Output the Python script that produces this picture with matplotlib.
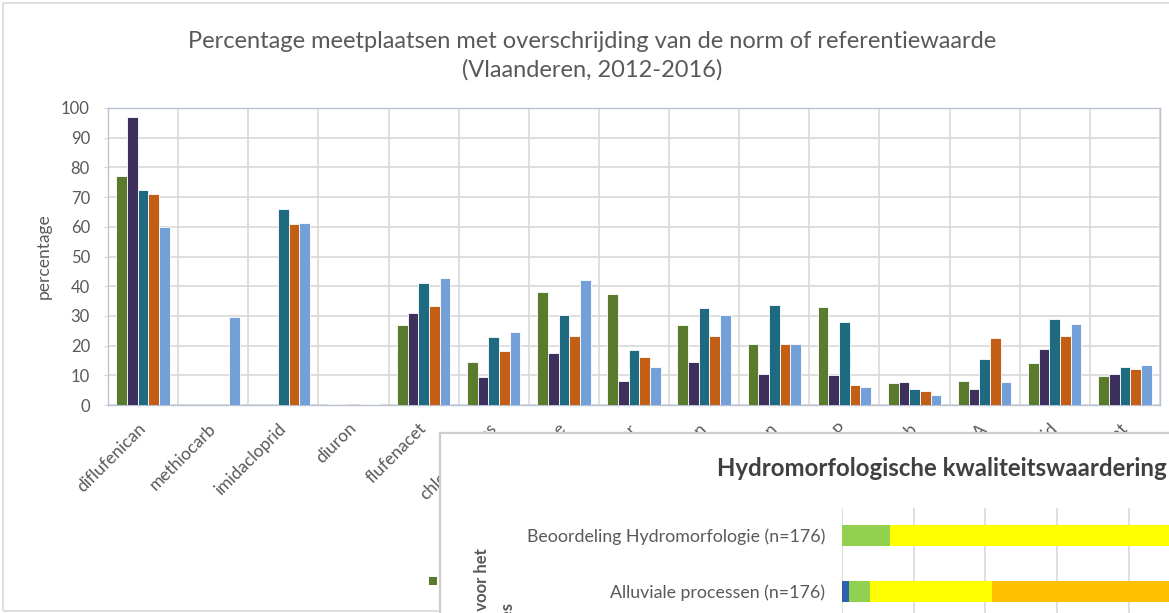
import matplotlib
matplotlib.use("Agg")
import matplotlib.pyplot as plt
from matplotlib.patches import Rectangle, Patch
import numpy as np

W, H = 1169, 613
DPI = 100

# --- main chart data: share of sites exceeding the standard (%) ---
stoffen = ["diflufenican", "methiocarb", "imidacloprid", "diuron", "flufenacet",
           "chloorpyrifos", "terbutylazine", "metolachloor", "linuron", "isoproturon",
           "dimethenamid-P", "pirimicarb", "MCPA", "thiacloprid", "ethofumesaat"]
jaren = ["2012", "2013", "2014", "2015", "2016"]
pct_2012 = [77, 0, 0, 0.5, 27, 14.5, 38, 37.5, 27, 20.5, 33, 7.5, 8, 14, 9.8]
pct_2013 = [97, 0, 0, 0.5, 31, 9.5, 17.5, 8, 14.5, 10.5, 10, 7.8, 5.5, 18.8, 10.5]
pct_2014 = [72.5, 0, 66, 0, 41, 22.8, 30.3, 18.5, 32.5, 33.7, 28, 5.5, 15.5, 29, 12.8]
pct_2015 = [71, 0, 61, 0.4, 33.5, 18.3, 23.3, 16.2, 23.3, 20.5, 6.8, 4.7, 22.5, 23.2, 12]
pct_2016 = [60, 29.5, 61.3, 0.4, 42.8, 24.5, 42, 12.8, 30.3, 20.5, 6, 3.4, 7.6, 27.3, 13.4]
jaar_kleuren = ["#5b7b2c", "#3e305c", "#1e6a80", "#c25f14", "#74a0da"]

# --- overlaid panel: hydromorphological quality rating (%) ---
hm_rijen = ["Beoordeling Hydromorfologie (n=176)", "Alluviale processen (n=176)"]
hm_klassen = ["zeer goed", "goed", "matig", "ontoereikend", "slecht"]
hm_zeer_goed = [0.0, 1.0]
hm_goed = [6.7, 2.9]
hm_matig = [58.0, 17.0]
hm_ontoereikend = [28.0, 55.0]
hm_slecht = [7.3, 24.1]
hm_kleuren = ["#2e62ad", "#92d050", "#ffff00", "#ffc000", "#ff0000"]

plt.rcParams["font.family"] = ["Lato", "DejaVu Sans"]
GRIJS = "#595959"

fig = plt.figure(figsize=(W / DPI, H / DPI), dpi=DPI)
fig.patch.set_facecolor("white")


def px_box(left, top, width, height):
    return [left / W, 1 - (top + height) / H, width / W, height / H]


def fit_width(txt, target):
    r = fig.canvas.get_renderer()
    w = txt.get_window_extent(renderer=r).width
    txt.set_fontsize(txt.get_fontsize() * target / w)


# outer frame of the chart area
fig.add_artist(Rectangle((3 / W, 1 - 611 / H), 1.2, 608 / H,
                         transform=fig.transFigure, fill=False,
                         edgecolor="#d9d9d9", lw=1.2, zorder=1))

# --- main grouped bar chart ---
ax = fig.add_axes(px_box(108, 108, 1052, 297))
x = np.arange(len(stoffen))
reeksen = [pct_2012, pct_2013, pct_2014, pct_2015, pct_2016]
bw = 0.152
for i, (vals, kleur) in enumerate(zip(reeksen, jaar_kleuren)):
    ax.bar(x + (i - 2) * bw, vals, width=bw, color=kleur, edgecolor="white",
           linewidth=0.6, zorder=3, label=jaren[i])

ax.set_xlim(-0.5, len(stoffen) - 0.5)
ax.set_ylim(0, 100)
ax.set_yticks(np.arange(0, 101, 10))
ax.set_xticks(x)
ax.set_xticks(np.arange(-0.5, len(stoffen)), minor=True)
ax.set_xticklabels(stoffen, rotation=45, ha="right", va="center",
                   rotation_mode="anchor", fontsize=12.5, color=GRIJS)
ax.tick_params(axis="x", which="major", length=0, pad=15)
ax.tick_params(axis="x", which="minor", length=0)
ax.tick_params(axis="y", length=3, color="#d9d9d9", pad=10, labelsize=12,
               labelcolor=GRIJS)
ax.grid(axis="y", color="#d9d9d9", lw=1.2, zorder=0)
ax.grid(axis="x", which="minor", color="#d9d9d9", lw=1.2, zorder=0)
for s in ax.spines.values():
    s.set_color("#b8c2d4")
    s.set_linewidth(1.0)
ax.set_ylabel("percentage", fontsize=12.5, color=GRIJS, labelpad=7)

t1 = fig.text(592 / W, 1 - 42 / H,
              "Percentage meetplaatsen met overschrijding van de norm of referentiewaarde",
              ha="center", va="center", color=GRIJS, fontsize=15)
fit_width(t1, 813)
fig.text(592 / W, 1 - 70 / H, "(Vlaanderen, 2012-2016)", ha="center", va="center",
         color=GRIJS, fontsize=t1.get_fontsize())

handles = [Patch(facecolor=c) for c in jaar_kleuren]
fig.legend(handles, jaren, loc="center left", bbox_to_anchor=(429 / W, 1 - 582.5 / H),
           ncol=5, frameon=False, borderpad=0, borderaxespad=0,
           handlelength=0.5, handleheight=0.5, fontsize=11, labelcolor=GRIJS)

# --- overlaid panel ---
fig.add_artist(Rectangle((440 / W, 1 - 650 / H), 800 / W, 217 / H,
                         transform=fig.transFigure, facecolor="white",
                         edgecolor="#cdcdcd", lw=1.6, zorder=10))

ax2 = fig.add_axes(px_box(842, 508, 717, 224), zorder=11)
ax2.patch.set_alpha(0)
rij_y = np.arange(len(hm_rijen))
links = np.zeros(len(hm_rijen))
for vals, kleur in zip([hm_zeer_goed, hm_goed, hm_matig, hm_ontoereikend, hm_slecht],
                       hm_kleuren):
    ax2.barh(rij_y, vals, left=links, height=0.38, color=kleur, zorder=3)
    links = links + np.array(vals)
ax2.set_xlim(0, 100)
ax2.set_ylim(3.51, -0.49)
ax2.set_xticks(np.arange(0, 101, 10))
ax2.set_xticklabels([])
ax2.set_yticks(rij_y)
ax2.set_yticklabels(hm_rijen, color=GRIJS, fontsize=12)
ax2.tick_params(axis="y", length=0, pad=12)
ax2.tick_params(axis="x", length=0)
ax2.grid(axis="x", color="#d9d9d9", lw=1.2, zorder=0)
for s in ax2.spines.values():
    s.set_visible(False)
r = fig.canvas.get_renderer()
lab0 = ax2.get_yticklabels()[0]
w0 = lab0.get_window_extent(renderer=r).width
for lab in ax2.get_yticklabels():
    lab.set_fontsize(12 * 298 / w0)

t2 = fig.text(717 / W, 1 - 468 / H, "Hydromorfologische kwaliteitswaardering",
              ha="left", va="center", fontweight="bold", color="#404040",
              fontsize=15, zorder=12)
fit_width(t2, 452)

fig.text(482 / W, 1 - 548 / H, "Kwaliteitselementen voor het", rotation=90,
         ha="center", va="top", fontweight="bold", color=GRIJS, fontsize=12,
         zorder=12)
fig.text(508 / W, 1 - 603 / H, "hydromorfologisch proces", rotation=90,
         ha="center", va="top", fontweight="bold", color=GRIJS, fontsize=12,
         zorder=12)

fig.savefig("out.png", dpi=DPI)
